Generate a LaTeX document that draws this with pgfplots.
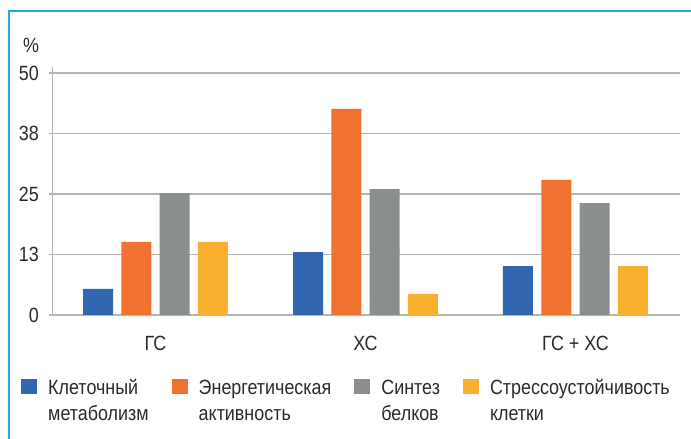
\documentclass[border=0pt]{standalone}
\usepackage{fontspec}
\setmainfont{Liberation Sans}[FakeStretch=0.87]
\usepackage{pgfplots}
\pgfplotsset{compat=1.18}
\definecolor{cblue}{HTML}{3366B0}
\definecolor{corange}{HTML}{F07130}
\definecolor{cgray}{HTML}{8B8E8E}
\definecolor{cyellow}{HTML}{FAB02E}
\definecolor{gridc}{HTML}{B5B5B5}
\definecolor{framec}{HTML}{1AAEE6}
\definecolor{txt}{HTML}{2A2A2A}
\begin{document}
\begin{tikzpicture}[font=\fontsize{20.6}{26}\selectfont, text=txt]
\useasboundingbox (0,0) rectangle (691pt,439pt);
\draw[framec, line width=2.2pt] (9pt,0) -- (9pt,428pt) -- (691pt,428pt);
\node[inner sep=0pt] at (31pt,394pt) {\%};
\begin{axis}[
  at={(53pt,124pt)}, anchor=south west,
  scale only axis, width=627pt, height=247.8pt,
  xmin=-0.488, xmax=2.498, ymin=0, ymax=51.2,
  ybar=8.3pt, bar width=30pt,
  xtick={0,1,2}, xticklabels={ГС, ХС, ГС + ХС},
  ytick={0,12.5,25,37.5,50}, yticklabels={0,13,25,38,50},
  axis x line*=bottom, axis y line*=left,
  axis line style={-},
  x axis line style={line width=2pt, draw=gridc},
  y axis line style={line width=1pt, draw=gridc},
  ymajorgrids, grid style={gridc, line width=1.3pt},
  xtick style={draw=none},
  ytick style={gridc, line width=1.2pt},
  tick align=outside, major tick length=4pt,
  yticklabel style={anchor=east, inner sep=0pt, xshift=-10pt},
  xticklabel style={anchor=north, inner sep=0pt, yshift=-17pt},
  /pgf/number format/assume math mode=true,
  ticklabel style={font=\fontsize{20.6}{26}\selectfont, text=txt},
  legend style={at={(axis description cs:-0.051,-0.25)}, anchor=north west,
    draw=none, fill=none, inner sep=0pt, legend columns=4,
    font=\fontsize{20.6}{26}\selectfont,
    cells={align=left, anchor=base west},
    /tikz/every odd column/.append style={column sep=9pt},
    /tikz/every even column/.append style={column sep=21pt}},
  legend image code/.code={\fill[#1,draw=none] (0pt,26pt) rectangle (16pt,41pt);},
]
\addplot[fill=cblue, draw=none] coordinates {(0,5.4) (1,13.0) (2,10.1)};
\addplot[fill=corange, draw=none] coordinates {(0,15.1) (1,42.6) (2,27.9)};
\addplot[fill=cgray, draw=none] coordinates {(0,25.2) (1,26.0) (2,23.1)};
\addplot[fill=cyellow, draw=none] coordinates {(0,15.1) (1,4.3) (2,10.1)};
\addlegendentry{Клеточный\\метаболизм}
\addlegendentry{Энергетическая\\активность}
\addlegendentry{Синтез\\белков}
\addlegendentry{Стрессоустойчивость\\клетки}
\end{axis}
\end{tikzpicture}
\end{document}
